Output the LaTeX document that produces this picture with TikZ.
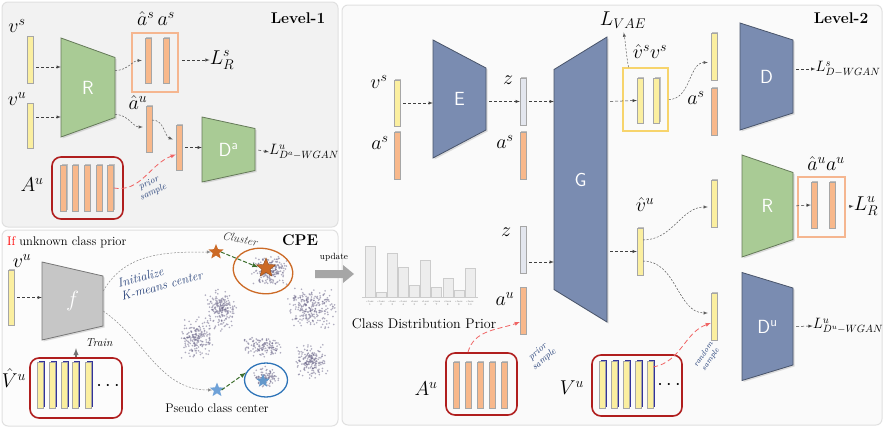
\RequirePackage{fix-cm}
\documentclass[tikz,border=0pt]{standalone}
\usepackage{amssymb}
\usepackage{tikz}
\usetikzlibrary{shapes}
\usetikzlibrary{calc}
\usetikzlibrary{arrows}
\usetikzlibrary{shadows}
\usetikzlibrary{shapes.geometric}

\definecolor{ybar}{HTML}{FBEFA0}
\definecolor{obar}{HTML}{F8B88B}
\definecolor{zbar}{HTML}{E3E6EE}
\definecolor{slate}{HTML}{7A8CB1}
\definecolor{leaf}{HTML}{A9CB95}
\definecolor{fgray}{HTML}{C6C6C6}
\definecolor{boxred}{HTML}{B01E1E}
\definecolor{boxorange}{HTML}{F5B690}
\definecolor{boxyellow}{HTML}{F7D46C}
\definecolor{sampred}{HTML}{F06464}
\definecolor{inkblue}{HTML}{243F78}
\definecolor{starorange}{HTML}{CC6A26}
\definecolor{starblue}{HTML}{6FA2D8}
\definecolor{ellblue}{HTML}{2E74B8}
\definecolor{dotc}{HTML}{6F6A8C}
\definecolor{dgreen}{HTML}{3C6E2C}

\tikzset{slab/.style={rectangle, inner sep=0pt, minimum width=6pt, minimum height=46pt, draw=black!35, line width=.3pt}}
\tikzset{yslab/.style={slab, fill=ybar, drop shadow={shadow xshift=1pt, shadow yshift=1pt, fill=black!25, opacity=1}}}
\tikzset{oslab/.style={slab, fill=obar, drop shadow={shadow xshift=1pt, shadow yshift=1pt, fill=black!25, opacity=1}}}
\tikzset{zslab/.style={slab, fill=zbar, drop shadow={shadow xshift=1pt, shadow yshift=1pt, fill=black!25, opacity=1}}}
\tikzset{vslab/.style={slab, fill=ybar, drop shadow={shadow xshift=1.5pt, shadow yshift=.8pt, fill=blue!50!black!80, opacity=1}}}
\tikzset{redbox/.style={draw=boxred, line width=1.6pt, rounded corners=9pt, inner sep=0pt}}
\tikzset{orbox/.style={draw=boxorange, line width=1.6pt, inner sep=0pt}}
\tikzset{yebox/.style={draw=boxyellow, line width=1.6pt, inner sep=0pt}}
\tikzset{panel/.style={rounded corners=6pt, draw=black!12, line width=1pt}}
\tikzset{netlabel/.style={text=white, font=\sffamily\fontsize{19}{21}\selectfont, inner sep=0pt}}
\tikzset{mlab/.style={font=\fontsize{20}{22}\selectfont, inner sep=0pt}}
\tikzset{mlabs/.style={font=\fontsize{15}{17}\selectfont, inner sep=0pt}}
\tikzset{title/.style={font=\bfseries\fontsize{15.5}{18}\selectfont, inner sep=0pt}}
\tikzset{plain/.style={font=\fontsize{12.5}{14}\selectfont, inner sep=0pt}}
\tikzset{note/.style={font=\itshape\fontsize{9.5}{10}\selectfont, text=inkblue, align=center, inner sep=0pt}}
\tikzset{flow/.style={-latex, dash pattern=on 3pt off 2pt, black!75, line width=.5pt, shorten <=3pt}}
\tikzset{cflow/.style={-latex, dash pattern=on 2pt off 1.5pt, black!65, line width=.5pt}}
\tikzset{sample/.style={-latex, dash pattern=on 5pt off 3pt, sampred, line width=.8pt}}
\tikzset{gflow/.style={-latex, dash pattern=on 4pt off 2pt, dgreen, line width=1pt}}
\tikzset{kstar/.style={star, star points=5, star point ratio=2.3, inner sep=0pt}}

% trapezoid block: name, x, y, width, left height, right height, colour, text
\newcommand{\netblock}[8]{%
  \filldraw[fill=#7, draw=#7!60!black, line width=.8pt, drop shadow={opacity=.25, shadow xshift=1.5pt, shadow yshift=-1.5pt}]
    ({#2-#4/2},{#3-#5/2}) -- ({#2+#4/2},{#3-#6/2}) -- ({#2+#4/2},{#3+#6/2}) -- ({#2-#4/2},{#3+#5/2}) -- cycle;
  \node[netlabel, minimum width=#4pt, minimum height={max(#5,#6)}] (#1) at (#2,#3) {#8};}

\begin{document}
\begin{tikzpicture}[x=1pt,y=-1pt]
  \useasboundingbox (0,0) rectangle (887,431);
  % panels
  \draw[panel, fill=black!5] (2,2) rectangle (338,227);
  \draw[panel, fill=black!1] (2,230) rectangle (338,426);
  \draw[panel, fill=blue!1!black!2] (342,5) rectangle (882,425);

  % ---------------- Level-1
  \node[title] (lv1) at (298,18) {Level-1};
  \netblock{R1}{88}{87.5}{54}{99}{60}{leaf}{R}
  \netblock{Da}{228.5}{149.5}{53}{65}{42}{leaf}{D\textsuperscript{a}}
  \node[yslab, minimum height=47pt] (vs1) at (30,60) {};
  \node[yslab, minimum height=45pt] (vu1) at (30,126) {};
  \node[mlab] (lvs1) at (17,26) {$v^s$};
  \node[mlab] (lvu1) at (17,99) {$v^u$};
  \coordinate (vs1o) at ([yshift=-7pt]vs1.east);
  \coordinate (vu1o) at ([yshift=9pt]vu1.east);
  \draw[flow] (vs1o) -- (vs1o -| R1.west);
  \draw[flow] (vu1o) -- (vu1o -| R1.west);

  \node[orbox, minimum width=46pt, minimum height=59pt] (bxs1) at (155,62.5) {};
  \node[oslab, minimum height=45pt] (ash1) at (148,60.5) {};
  \node[oslab, minimum height=45pt] (as1) at (166,60.5) {};
  \node[mlab] (lash1) at (156,19) {$\hat{a}^s\,a^s$};
  \draw[cflow, shorten >=3pt] ([yshift=17pt]R1.east) to[out=0,in=180] (ash1.west);
  \node[mlab] (LRs) at (222,60) {$L_R^s$};
  \draw[flow] (bxs1.east |- LRs.west) -- (LRs.west);

  \node[oslab] (hau1) at (149,129) {};
  \node[mlab] (lhau1) at (138,103) {$\hat{a}^u$};
  \draw[cflow, shorten >=3pt] ([yshift=-27pt]R1.east) to[out=0,in=180] ([yshift=2pt]hau1.west);
  \node[oslab, minimum height=45pt] (au1) at (179,147.5) {};
  \draw[cflow, shorten >=3pt] ([yshift=9pt]hau1.east) to[out=0,in=160] ([yshift=7pt]au1.west);
  \draw[flow] (au1.east) -- (au1.east -| Da.west);
  \node[mlabs] (LDa) at (304,152) {$L^u_{D^a-WGAN}$};
  \draw[flow] (Da.east) -- (LDa.west);

  \node[redbox, minimum width=71pt, minimum height=62pt] (Au1) at (87.5,188) {};
  \foreach \i in {0,...,4}
    \node[oslab] (a1\i) at (63.5+11.75*\i,188) {};
  \node[mlab] (lAu1) at (32,185) {$A^u$};
  \draw[sample] (a14.east) to[out=-10,in=200] ([yshift=-7pt]au1.west);
  \node[note, rotate=25] (ps1) at (151,188) {prior\\sample};

  % ---------------- CPE
  \node[plain, anchor=west] (ifp) at (7,242) {\textcolor{red}{If} unknown class prior};
  \node[title] (cpe) at (300,240) {CPE};
  % scatter of features
  \pgfmathsetseed{3}
  \foreach \cx/\cy/\sx/\sy/\n in {270/270/20/16/210, 221/310/16/22/200, 197/338/16/21/190, 312/308/25/21/250, 262/347/22/11/130, 311/361/17/19/180, 266/377/13/11/110} {
    \foreach \k in {1,...,\n} {
      \fill[dotc, opacity=.55] ({\cx+\sx*(rand+rand)/2},{\cy+\sy*(rand+rand)/2}) circle (.9);
    }
  }
  \netblock{f}{72.5}{301}{61}{78}{50}{fgray}{\fontsize{22}{24}\selectfont$f$}
  \node[yslab, minimum height=55pt] (vu2) at (11,297.5) {};
  \node[mlab] (lvu2) at (22,261) {$v^u$};
  \draw[flow] (vu2.east) -- (vu2.east -| f.west);
  \node[redbox, minimum width=92pt, minimum height=60pt] (Vh) at (76,388) {};
  \foreach \i/\x in {0/40,1/52,2/64,3/75.5,4/88}
    \node[vslab] (vh\i) at (\x,385) {};
  \node[mlab] (vhd) at (108,386) {$\cdots$};
  \node[mlab] (lVh) at (14,378) {$\hat{V}^u$};
  \draw[-latex, black!55, line width=1.4pt, shorten >=8pt] (Vh.north) -- (Vh.north |- f.south);
  \node[plain, font=\itshape\fontsize{11.5}{12}\selectfont] (trn) at (99,343) {Train};

  \node[ellipse, draw=starorange, line width=1.3pt, minimum width=60pt, minimum height=45pt, rotate=-10] (cO) at (263,271) {};
  \node[ellipse, draw=ellblue, line width=1.3pt, minimum width=43pt, minimum height=34pt] (cB) at (266,380) {};
  \node[kstar, fill=starorange, minimum size=16pt] (so) at (216,252) {};
  \node[kstar, fill=starorange, draw=starorange!70!black, minimum size=20pt] (sbig) at (266,268) {};
  \node[kstar, fill=starblue, minimum size=15pt] (sb) at (217,390) {};
  \node[kstar, fill=ellblue!75, minimum size=14pt] (sbin) at (263,381) {};
  \draw[cflow, black!45] ([yshift=10pt]f.east) to[out=60,in=180] (so.west);
  \draw[cflow, black!45] ([yshift=-10pt]f.east) to[out=-35,in=180] (sb.west);
  \node[note, rotate=15, align=left, font=\itshape\fontsize{12.5}{13.5}\selectfont] (init) at (160,279) {Initialize\\K-means center};
  \node[note, rotate=-12, text=black!80, font=\itshape\fontsize{11.5}{12}\selectfont] (clu) at (240,239) {Cluster};
  \draw[gflow, shorten >=2pt] (so.east) -- (sbig.west);
  \draw[gflow] (sb.east) -- (cB.160);
  \node[plain] (psc) at (217,408) {Pseudo class center};

  % update arrow
  \node[plain, font=\fontsize{9}{10}\selectfont] (upd) at (334,257) {update};
  \fill[black!35] (315,270) -- (343,270) -- (343,265) -- (354,274) -- (343,283) -- (343,278) -- (315,278) -- cycle;

  % ---------------- Level-2
  \node[title] (lv2) at (841,18) {Level-2};
  \netblock{E}{459.5}{99}{53}{118}{62}{slate}{E}
  \netblock{G}{580.5}{179.5}{53}{220}{285}{slate}{G}
  \netblock{D}{766.5}{76.5}{53}{107}{73}{slate}{D}
  \netblock{R2}{767.5}{206}{51}{102}{67}{leaf}{R}
  \netblock{Du}{767.5}{326.5}{51}{108}{77}{slate}{D\textsuperscript{u}}

  \node[yslab] (vs2) at (397,103) {};
  \node[oslab, minimum height=47pt] (as2) at (397,155.5) {};
  \node[mlab] (lvs2) at (379,82) {$v^s$};
  \node[mlab] (las2) at (380,143) {$a^s$};
  \draw[flow] (vs2.east) -- (vs2.east -| E.west);
  \node[zslab, minimum height=47pt] (z1) at (523,101.5) {};
  \node[oslab, minimum height=47pt] (as3) at (523,155.5) {};
  \node[mlab] (lz1) at (508,80) {$z$};
  \node[mlab] (las3) at (505,142) {$a^s$};
  \draw[flow] (E.east |- z1) -- (z1.west);
  \draw[flow] (z1.east) -- (z1.east -| G.west);
  \node[zslab, minimum height=47pt] (z2) at (523,250) {};
  \node[oslab, minimum height=47pt] (au3) at (523,311) {};
  \node[mlab] (lz2) at (506,232) {$z$};
  \node[mlab] (lau3) at (505,299) {$a^u$};
  \coordinate (z2o) at ([yshift=-12pt]z2.east);
  \draw[flow] (z2o) -- (z2o -| G.west);

  % class distribution prior
  \draw[black!20] (362,297) -- (478,297);
  \foreach \i/\h in {1/246,2/292,3/253,4/267,5/285,6/260,7/287,8/278,9/290,10/268} {
    \draw[fill=black!7, draw=black!20] ({365+11.1*(\i-1)},297) rectangle ({375+11.1*(\i-1)},\h);
    \node[align=center, inner sep=0pt, text=black!55, font=\fontsize{2.6}{2.9}\selectfont] (ct\i) at ({370+11.1*(\i-1)},303) {class\\\i};
  }
  \node[plain, font=\fontsize{14}{15}\selectfont] (cdp) at (424,324) {Class Distribution Prior};

  \node[redbox, minimum width=71pt, minimum height=62pt] (Au2) at (481.5,384) {};
  \foreach \i in {0,...,4}
    \node[oslab] (a2\i) at (456+12*\i,385) {};
  \node[mlab] (lAu2) at (426,389) {$A^u$};
  \draw[sample] (a21.north |- Au2.north) to[out=75,in=200] ([yshift=-11pt]au3.west);
  \node[note, rotate=40] (ps2) at (541,356) {prior\\sample};

  % upper branch
  \node[yebox, minimum width=45pt, minimum height=63pt] (bxv) at (645.5,99.5) {};
  \node[yslab, minimum height=45pt] (vhs) at (640,100.5) {};
  \node[yslab, minimum height=45pt] (vs3) at (656.5,100.5) {};
  \draw[flow] (G.east |- z1) -- (vhs.west);
  \node[mlab] (lvhs) at (650,52) {$\hat{v}^s v^s$};
  \node[mlab] (LVAE) at (623,20) {$L_{VAE}$};
  \draw[cflow, shorten >=4pt] ([xshift=-17pt]bxv.north) to[out=100,in=-80] (LVAE.south);
  \node[yslab, minimum height=47pt] (vs4) at (714,56.5) {};
  \node[oslab, minimum height=47pt] (as4) at (714,111.5) {};
  \node[mlab] (las4) at (696,98) {$a^s$};
  \draw[cflow, shorten >=3pt] (bxv.east) to[out=0,in=180] ([yshift=-6pt]vs4.west);
  \node[mlabs] (LDs) at (848,69) {$L^s_{D-WGAN}$};
  \draw[flow] (D.east |- LDs.west) -- (LDs.west);

  % lower branch
  \node[yslab, minimum height=47pt] (vhu) at (640,251.5) {};
  \node[mlab] (lvhu) at (645,205) {$\hat{v}^u$};
  \draw[flow] (G.east |- vhu) -- (vhu.west);
  \node[yslab, minimum height=47pt] (vu5) at (714,203.5) {};
  \node[yslab, minimum height=47pt] (vu6) at (714,316.5) {};
  \draw[cflow, shorten >=3pt] ([yshift=11.5pt]vhu.east) to[out=0,in=180] ([yshift=-3.5pt]vu5.west);
  \draw[cflow, shorten >=3pt] ([yshift=-9.5pt]vhu.east) to[out=0,in=180] ([yshift=3.5pt]vu6.west);

  \node[orbox, minimum width=47pt, minimum height=60pt] (bxa) at (821.5,207) {};
  \node[oslab] (ahu2) at (814,205) {};
  \node[oslab] (au4) at (832,205) {};
  \node[mlab] (lahu) at (826,164) {$\hat{a}^u a^u$};
  \draw[flow] (R2.east) -- (ahu2.west);
  \node[mlab] (LRu) at (866,206) {$L_R^u$};
  \draw[flow] (bxa.east) -- (LRu.west);
  \node[mlabs] (LDu) at (848,326) {$L^u_{D^u-WGAN}$};
  \draw[flow] (Du.east) -- (LDu.west);

  \node[redbox, minimum width=90pt, minimum height=61pt] (Vu) at (637,385.5) {};
  \foreach \i/\x in {0/602,1/614,2/626.5,3/638.5,4/650}
    \node[vslab, minimum height=47pt] (vu2\i) at (\x,384.5) {};
  \node[mlab] (vud) at (669,385) {$\cdots$};
  \node[mlab] (lVu) at (572,388) {$V^u$};
  \draw[sample] ([yshift=17.5pt]vu24.east) to[out=10,in=200] ([yshift=-6.5pt]vu6.west);
  \node[note, rotate=55, font=\itshape\fontsize{8}{8.5}\selectfont] (rs) at (707,357) {random\\sample};
\end{tikzpicture}
\end{document}
